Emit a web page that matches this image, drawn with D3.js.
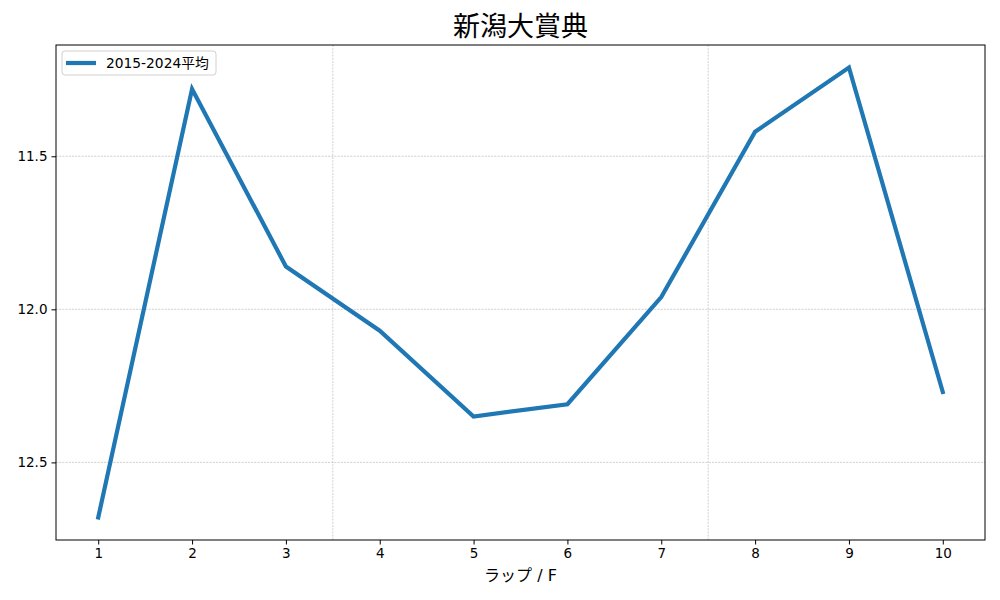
<!DOCTYPE html>
<html><head><meta charset="utf-8">
<script src="https://cdn.jsdelivr.net/npm/d3@7"></script>
<style>body{margin:0;background:#fff}svg{display:block}text{font-family:"DejaVu Sans","Noto Sans CJK JP",sans-serif}.cjk{font-family:"Noto Sans CJK JP",sans-serif}</style>
</head><body><svg id="c" width="1000" height="600"></svg>
<script>
const laps = [1,2,3,4,5,6,7,8,9,10];
const avgTimes = [12.68,11.28,11.86,12.07,12.35,12.31,11.96,11.42,11.21,12.27];
const yTicks = [11.5,12.0,12.5];
const xGrid = [3.5,7.5];
const seriesName = "2015-2024平均";
const title = "新潟大賞典";
const xLabel = "ラップ / F";

const svg = d3.select("#c");
const L=56,R=985,T=45,B=540;
const ext = d3.extent(avgTimes), pad=(ext[1]-ext[0])*0.05;
const x = d3.scaleLinear().domain([0.55,10.45]).range([L,R]);
const y = d3.scaleLinear().domain([ext[0]-pad, ext[1]+pad]).range([T,B]);

const g = svg.append("g");
g.selectAll(".hg").data(yTicks).enter().append("line")
 .attr("x1",L).attr("x2",R).attr("y1",d=>y(d)).attr("y2",d=>y(d))
 .attr("stroke","#b0b0b0").attr("stroke-width",0.6).attr("stroke-dasharray","2,1.2");
g.selectAll(".vg").data(xGrid).enter().append("line")
 .attr("y1",T).attr("y2",B).attr("x1",d=>x(d)).attr("x2",d=>x(d))
 .attr("stroke","#b0b0b0").attr("stroke-width",0.6).attr("stroke-dasharray","2,1.2");

const line = d3.line().x((d,i)=>x(laps[i])).y(d=>y(d));
svg.append("path").datum(avgTimes).attr("d",line).attr("fill","none")
 .attr("stroke","#1f77b4").attr("stroke-width",4.2).attr("stroke-linejoin","miter").attr("stroke-linecap","square");

const xa = svg.append("g").attr("transform",`translate(0,${B})`)
 .call(d3.axisBottom(x).tickValues(laps).tickFormat(d3.format("d")).tickSize(4.5).tickPadding(4));
const ya = svg.append("g").attr("transform",`translate(${L},0)`)
 .call(d3.axisLeft(y).tickValues(yTicks).tickFormat(d3.format(".1f")).tickSize(4.5).tickPadding(4));
[xa,ya].forEach(a=>{a.select(".domain").remove();a.selectAll("line").attr("stroke","#000").attr("stroke-width",1);
 a.selectAll("text").attr("fill","#000").style("font-size","13.5px");});

svg.append("rect").attr("x",L).attr("y",T).attr("width",R-L).attr("height",B-T)
 .attr("fill","none").attr("stroke","#000").attr("stroke-width",1);

svg.append("text").attr("class","cjk").attr("x",(L+R)/2).attr("y",36).attr("text-anchor","middle")
 .style("font-size","27px").text(title);
svg.append("text").attr("x",(L+R)/2).attr("y",581).attr("text-anchor","middle")
 .style("font-size","16px").text(xLabel);

const lg = svg.append("g");
lg.append("rect").attr("x",62).attr("y",51).attr("width",154).attr("height",24).attr("rx",3)
 .attr("fill","#fff").attr("fill-opacity",0.8).attr("stroke","#d0d0d0");
lg.append("line").attr("x1",66).attr("x2",96).attr("y1",63).attr("y2",63)
 .attr("stroke","#1f77b4").attr("stroke-width",4.2);
lg.append("text").attr("x",106).attr("y",67.5).style("font-size","13.8px").text(seriesName);
</script></body></html>
